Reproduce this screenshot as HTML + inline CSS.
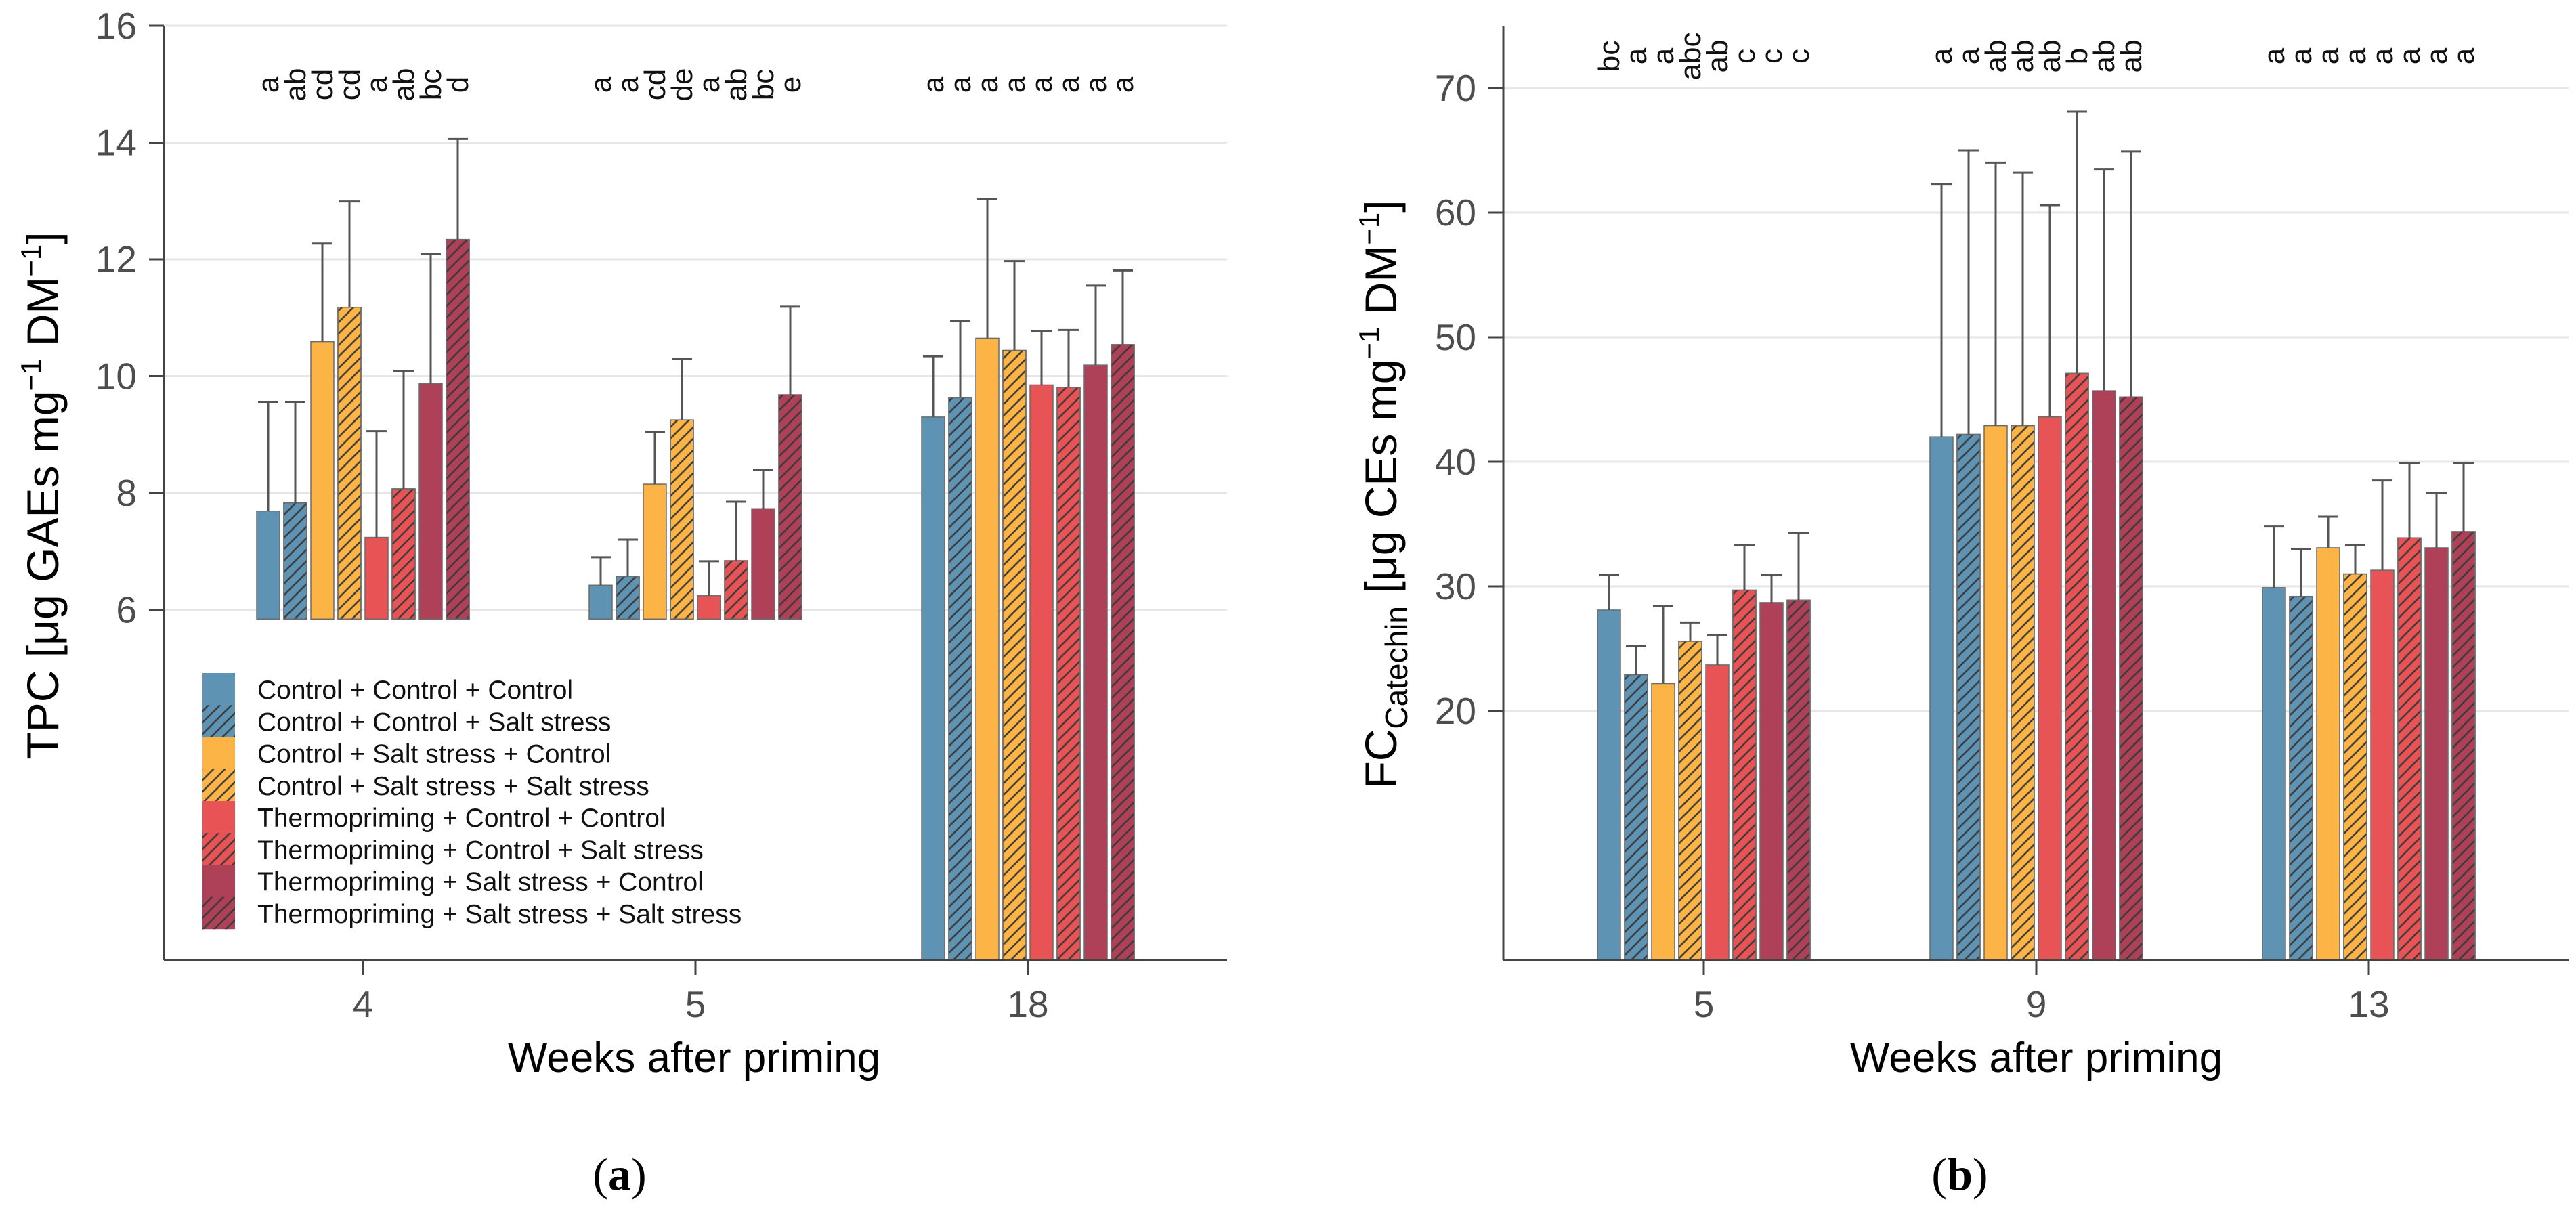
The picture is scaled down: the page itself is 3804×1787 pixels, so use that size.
<!DOCTYPE html>
<html><head><meta charset="utf-8">
<style>
html,body{margin:0;padding:0;background:#fff;}
svg{display:block;}
text{font-family:"Liberation Sans",sans-serif;}
</style></head>
<body>
<svg id="fig" xmlns="http://www.w3.org/2000/svg" width="3804" height="1787" viewBox="0 0 3804 1787">
<defs>
<pattern id="hatch" patternUnits="userSpaceOnUse" width="12" height="12" patternTransform="rotate(-45)">
<line x1="0" y1="6" x2="12" y2="6" stroke="#3a3a3a" stroke-width="2.5"/>
</pattern>
</defs>
<rect x="0" y="0" width="3804" height="1787" fill="#fff"/>
<g id="panelA"></g>
<g id="panelB"></g>
<text x="915" y="1757" text-anchor="middle" font-size="68" fill="#000" style="font-family:'Liberation Serif',serif">(<tspan font-weight="bold">a</tspan>)</text>
<text x="2894" y="1757" text-anchor="middle" font-size="68" fill="#000" style="font-family:'Liberation Serif',serif">(<tspan font-weight="bold">b</tspan>)</text>
</svg>
<script>
// ---- shared data ----
const seriesNames = ["Control + Control + Control","Control + Control + Salt stress","Control + Salt stress + Control","Control + Salt stress + Salt stress","Thermopriming + Control + Control","Thermopriming + Control + Salt stress","Thermopriming + Salt stress + Control","Thermopriming + Salt stress + Salt stress"];
const seriesColors = ["#5e93b4","#5e93b4","#fdb446","#fdb446","#e85356","#e85356","#ae4057","#ae4057"];
const seriesHatched = [false,true,false,true,false,true,false,true];

// ---- panel a data ----
const aCategories = ["4","5","18"];
const aFloor = [5.84, 5.84, 0];
const aValues = [
  [7.69,7.83,10.59,11.18,7.24,8.07,9.87,12.34],
  [6.42,6.57,8.15,9.25,6.24,6.84,7.73,9.68],
  [9.30,9.63,10.65,10.44,9.85,9.81,10.19,10.54]
];
const aErrTop = [
  [9.56,9.56,12.27,12.99,9.06,10.09,12.09,14.06],
  [6.90,7.20,9.04,10.30,6.83,7.85,8.40,11.19],
  [10.34,10.95,13.03,11.97,10.77,10.79,11.55,11.81]
];
const aLetters = [
  ["a","ab","cd","cd","a","ab","bc","d"],
  ["a","a","cd","de","a","ab","bc","e"],
  ["a","a","a","a","a","a","a","a"]
];
const aTicks = [6,8,10,12,14,16];

// ---- panel b data ----
const bCategories = ["5","9","13"];
const bFloor = [0,0,0];
const bValues = [
  [28.1,22.9,22.2,25.6,23.7,29.7,28.7,28.9],
  [42.0,42.2,42.9,42.9,43.6,47.1,45.7,45.2],
  [29.9,29.2,33.1,31.0,31.3,33.9,33.1,34.4]
];
const bErrTop = [
  [30.9,25.2,28.4,27.1,26.1,33.3,30.9,34.3],
  [62.3,65.0,64.0,63.2,60.6,68.1,63.5,64.9],
  [34.8,33.0,35.6,33.3,38.5,39.9,37.5,39.9]
];
const bLetters = [
  ["bc","a","a","abc","ab","c","c","c"],
  ["a","a","ab","ab","ab","b","ab","ab"],
  ["a","a","a","a","a","a","a","a"]
];
const bTicks = [20,30,40,50,60,70];

const NS = "http://www.w3.org/2000/svg";
function el(tag, attrs, parent){
  const e = document.createElementNS(NS, tag);
  for (const k in attrs) e.setAttribute(k, attrs[k]);
  parent.appendChild(e);
  return e;
}

function drawPanel(g, cfg){
  const y = v => cfg.y0 - v * cfg.pxPerUnit;
  const x = i => cfg.xStart + i * cfg.groupGap;
  cfg.ticks.forEach(t => {
    const gl = el("line",{x1:cfg.axisX,x2:cfg.plotRight,y1:y(t),y2:y(t),stroke:"#e6e6e6","stroke-width":3},g);
    
    
    const tk = el("line",{x1:cfg.axisX-22,x2:cfg.axisX,y1:y(t),y2:y(t),stroke:"#444","stroke-width":3},g);
    
    
    const tl = el("text",{x:cfg.axisX-40,y:y(t)+19,"text-anchor":"end","font-size":55,fill:"#4d4d4d"},g);
    tl.textContent = t;
    
    
  });
  const pitch = 40, bw = 34;
  cfg.categories.forEach((c, gi) => {
    const cx = x(gi);
    cfg.values[gi].forEach((v, si) => {
      const bx = cx - 4*pitch + si*pitch + (pitch-bw)/2;
      const bcx = bx + bw/2;
      const top = y(v), bot = y(cfg.floor[gi]);
      const r = el("rect",{x:bx,y:top,width:bw,height:Math.max(0,bot-top),fill:seriesColors[si],stroke:"#6b6b6b","stroke-width":1.5},g);
      
      
      if (seriesHatched[si]){
        const h = el("rect",{x:bx,y:top,width:bw,height:Math.max(0,bot-top),fill:"url(#hatch)",stroke:"#6b6b6b","stroke-width":1.5},g);
        
        
      }
      const et = y(cfg.errTop[gi][si]);
      const ev = el("line",{x1:bcx,x2:bcx,y1:top,y2:et,stroke:"#555","stroke-width":3},g);
      
      
      const ec = el("line",{x1:bcx-15,x2:bcx+15,y1:et,y2:et,stroke:"#555","stroke-width":3},g);
      
      
      const lt = el("text",{x:0,y:0,"text-anchor":"middle","font-size":44,fill:"#111",transform:`translate(${bcx+15},${cfg.letterY}) rotate(-90)`},g);
      lt.textContent = cfg.letters[gi][si];
      
      
    });
    const xt = el("line",{x1:cx,x2:cx,y1:cfg.y0,y2:cfg.y0+22,stroke:"#444","stroke-width":3},g);
    
    
    const xl = el("text",{x:cx,y:1502,"text-anchor":"middle","font-size":55,fill:"#4d4d4d"},g);
    xl.textContent = c;
    
    
  });
  const ya = el("line",{x1:cfg.axisX,x2:cfg.axisX,y1:cfg.axisTop,y2:cfg.y0,stroke:"#444","stroke-width":3},g);
  
  
  const xa = el("line",{x1:cfg.axisX,x2:cfg.plotRight,y1:cfg.y0,y2:cfg.y0,stroke:"#444","stroke-width":3},g);
  
  
  const xtitle = el("text",{x:cfg.xTitleX,y:1583,"text-anchor":"middle","font-size":62,fill:"#000"},g);
  xtitle.textContent = "Weeks after priming";
  
  
}

const gA = document.getElementById("panelA");
drawPanel(gA,{y0:1418,pxPerUnit:86.25,axisX:242,axisTop:38,plotRight:1812,xStart:536,groupGap:491,
  categories:aCategories,floor:aFloor,values:aValues,errTop:aErrTop,letters:aLetters,ticks:aTicks,letterY:125,xTitleX:1025});
const gB = document.getElementById("panelB");
drawPanel(gB,{y0:1418,pxPerUnit:18.4,axisX:2220,axisTop:39,plotRight:3793,xStart:2516,groupGap:491,
  categories:bCategories,floor:bFloor,values:bValues,errTop:bErrTop,letters:bLetters,ticks:bTicks,letterY:83,xTitleX:3007});

const ytA = el("text",{x:0,y:0,"text-anchor":"middle","font-size":66,fill:"#000",transform:"translate(86,732) rotate(-90)"},gA);
ytA.innerHTML = 'TPC [μg GAEs mg<tspan dy="-26" font-size="42">−1</tspan><tspan dy="26"> DM</tspan><tspan dy="-26" font-size="42">−1</tspan><tspan dy="26">]</tspan>';


const ytB = el("text",{x:0,y:0,"text-anchor":"middle","font-size":66,fill:"#000",transform:"translate(2062,730) rotate(-90)"},gB);
ytB.innerHTML = 'FC<tspan dy="16" font-size="46">Catechin</tspan><tspan dy="-16"> [μg CEs mg</tspan><tspan dy="-26" font-size="42">−1</tspan><tspan dy="26"> DM</tspan><tspan dy="-26" font-size="42">−1</tspan><tspan dy="26">]</tspan>';



const leg = el("g",{},gA);


seriesNames.forEach((n, i) => {
  const ky = 994 + i*47.25;
  const k = el("rect",{x:299,y:ky,width:48,height:47.5,fill:seriesColors[i]},leg);
  
  
  if (seriesHatched[i]){
    const kh = el("rect",{x:299,y:ky,width:48,height:47.5,fill:"url(#hatch)"},leg);
    
    
  }
  const t = el("text",{x:380,y:1032+i*47.25,"font-size":39,fill:"#111"},leg);
  t.textContent = n;
  
  
});
</script>
</body></html>
